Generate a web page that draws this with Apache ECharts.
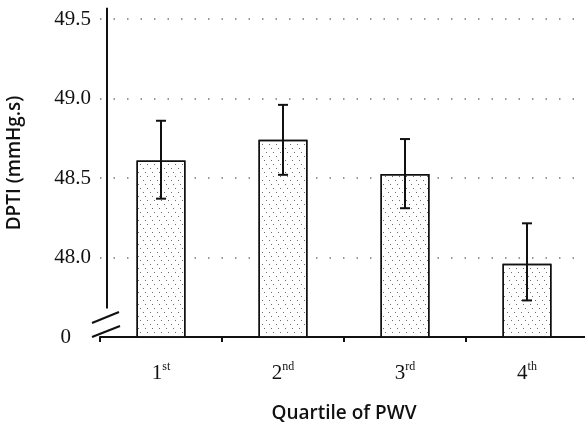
<!DOCTYPE html>
<html>
<head>
<meta charset="utf-8">
<script src="https://cdn.jsdelivr.net/npm/echarts@6/dist/echarts.min.js"></script>
<style>
html,body{margin:0;padding:0;background:#fff;}
#c{width:585px;height:426px;}
</style>
</head>
<body>
<div id="c"></div>
<script>
// ---- data ----
var categories = ['1', '2', '3', '4'];
var suffixes = ['st', 'nd', 'rd', 'th'];
var means = [48.61, 48.74, 48.525, 47.96];
var errLow = [48.37, 48.52, 48.31, 47.73];
var errHigh = [48.86, 48.96, 48.745, 48.215];
var yTicks = [47.5, 48.0, 48.5, 49.0, 49.5];
var yTickLabels = ['0', '48.0', '48.5', '49.0', '49.5'];

var chart = echarts.init(document.getElementById('c'), null, {renderer: 'canvas'});

var GRID_LEFT = 100;
var serif = 'Liberation Serif';
var sans = 'Open Sans';

var errData = categories.map(function (c, i) { return [i, errLow[i], errHigh[i]]; });

var option = {
  backgroundColor: '#fff',
  animation: false,
  grid: {left: GRID_LEFT, right: -3, top: 19, bottom: 89, containLabel: false, outerBoundsMode: 'none'},
  xAxis: {
    type: 'category',
    data: categories,
    name: 'Quartile of PWV',
    nameLocation: 'middle',
    nameGap: 67,
    nameTextStyle: {fontFamily: sans, fontSize: 19, fontWeight: 600, color: '#111'},
    axisLine: {lineStyle: {color: '#111', width: 2}},
    axisTick: {show: true, length: 5, lineStyle: {color: '#111', width: 2}},
    axisLabel: {
      margin: 24,
      fontFamily: serif,
      formatter: function (v, i) { return '{b|' + v + '}{s|' + suffixes[i] + '}'; },
      rich: {
        b: {fontFamily: serif, fontSize: 21, color: '#111', lineHeight: 24},
        s: {fontFamily: serif, fontSize: 12, color: '#111', verticalAlign: 'top', lineHeight: 24, padding: [0, 0, 12, 0]}
      }
    },
    splitLine: {show: false}
  },
  yAxis: {
    type: 'value',
    min: 47.5,
    max: 49.5,
    interval: 0.5,
    name: 'DPTI (mmHg.s)',
    nameLocation: 'middle',
    nameGap: 76,
    nameTextStyle: {fontFamily: sans, fontSize: 19, fontWeight: 600, color: '#111', padding: [0, 0, 0, 30]},
    axisLine: {show: false},
    axisTick: {show: false},
    axisLabel: {
      margin: 9,
      fontFamily: serif,
      formatter: function (v) {
        var idx = yTicks.indexOf(Math.round(v * 10) / 10);
        var t = idx >= 0 ? yTickLabels[idx] : '';
        return idx === 0 ? '{z|' + t + '}' : '{n|' + t + '}';
      },
      rich: {
        n: {fontFamily: serif, fontSize: 21, color: '#111'},
        z: {fontFamily: serif, fontSize: 21, color: '#111', padding: [0, 20, 0, 0]}
      }
    },
    splitLine: {lineStyle: {color: '#777', width: 1.5, type: [1.5, 12]}}
  },
  series: [
    {
      type: 'bar',
      data: means,
      barWidth: 49,
      itemStyle: {
        color: '#fff',
        borderColor: '#111',
        borderWidth: 1.5,
        decal: {
          symbol: 'rect',
          symbolSize: 1,
          color: 'rgba(60,60,60,0.75)',
          dashArrayX: [[1, 6], [0, 3, 1, 3], [0, 5, 1, 1]],
          dashArrayY: [1, 3],
          rotation: 0
        }
      },
      z: 2
    },
    {
      type: 'custom',
      data: errData,
      z: 5,
      renderItem: function (params, api) {
        var x = api.value(0);
        var lo = api.coord([x, api.value(1)]);
        var hi = api.coord([x, api.value(2)]);
        var cap = 5;
        var st = {stroke: '#111', lineWidth: 2};
        return {
          type: 'group',
          children: [
            {type: 'line', shape: {x1: lo[0], y1: lo[1], x2: hi[0], y2: hi[1]}, style: st},
            {type: 'line', shape: {x1: hi[0] - cap, y1: hi[1], x2: hi[0] + cap, y2: hi[1]}, style: st},
            {type: 'line', shape: {x1: lo[0] - cap, y1: lo[1], x2: lo[0] + cap, y2: lo[1]}, style: st}
          ]
        };
      }
    }
  ]
};
chart.setOption(option);

// broken y-axis decoration (derived from the axis scale)
function yPix(v) { return chart.convertToPixel({yAxisIndex: 0}, v); }
var axX = GRID_LEFT + 7;
var yTop = yPix(49.57);
var yBreak = yPix(47.68);
var y0 = yPix(47.5);
chart.setOption({
  graphic: [
    {type: 'line', shape: {x1: axX, y1: yTop, x2: axX, y2: yBreak}, style: {stroke: '#111', lineWidth: 2}, z: 10},
    {type: 'line', shape: {x1: GRID_LEFT - 8, y1: y0 - 14, x2: GRID_LEFT + 19, y2: y0 - 25}, style: {stroke: '#111', lineWidth: 2}, z: 10},
    {type: 'line', shape: {x1: GRID_LEFT - 8, y1: y0, x2: GRID_LEFT + 20, y2: y0 - 11}, style: {stroke: '#111', lineWidth: 2}, z: 10}
  ]
});
</script>
</body>
</html>
